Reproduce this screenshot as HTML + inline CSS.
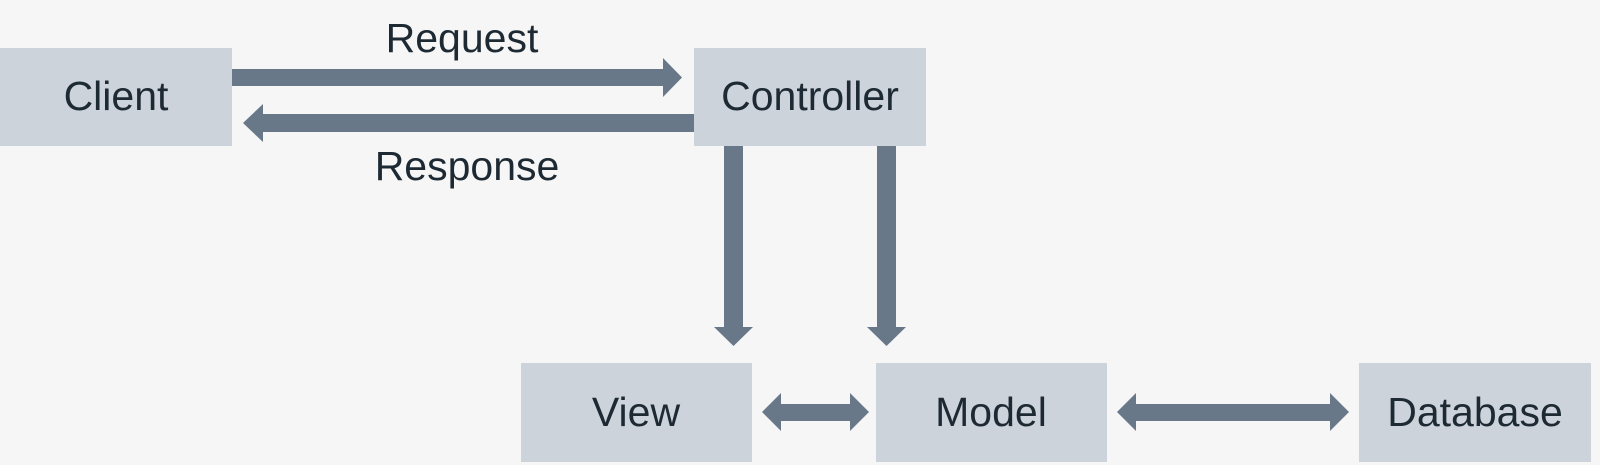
<!DOCTYPE html>
<html><head><style>
body{margin:0;background:#f6f6f6;}
svg{display:block}
text{font-family:"Liberation Sans",sans-serif;font-size:41px;fill:#1e2a33;text-anchor:middle;dominant-baseline:central}
</style></head><body>
<svg width="1600" height="465" xmlns="http://www.w3.org/2000/svg">
<rect width="1600" height="465" fill="#f6f6f6"/>
<g fill="#cdd3db">
<rect x="0" y="48" width="232" height="98"/>
<rect x="694" y="48" width="232" height="98"/>
<rect x="521" y="363" width="231" height="99"/>
<rect x="876" y="363" width="231" height="99"/>
<rect x="1359" y="363" width="232" height="99"/>
</g>
<g fill="#687889">
<polygon points="232,69 663,69 663,58 682,77.5 663,97 663,86 232,86"/>
<polygon points="694,114 263,114 263,104 243,123 263,142 263,132 694,132"/>
<polygon points="724,146 743,146 743,327 753,327 733.5,346 714,327 724,327"/>
<polygon points="877,146 896,146 896,327 906,327 886.5,346 867,327 877,327"/>
<polygon points="762,412 781,393 781,404 850,404 850,393 869,412 850,431 850,421 781,421 781,431"/>
<polygon points="1117,412 1136,393 1136,404 1330,404 1330,393 1349,412 1330,431 1330,421 1136,421 1136,431"/>
</g>
<text x="116" y="96">Client</text>
<text x="810" y="96">Controller</text>
<text x="636" y="412">View</text>
<text x="991" y="412">Model</text>
<text x="1475" y="412">Database</text>
<text x="462" y="38">Request</text>
<text x="467" y="166">Response</text>
</svg>
</body></html>
